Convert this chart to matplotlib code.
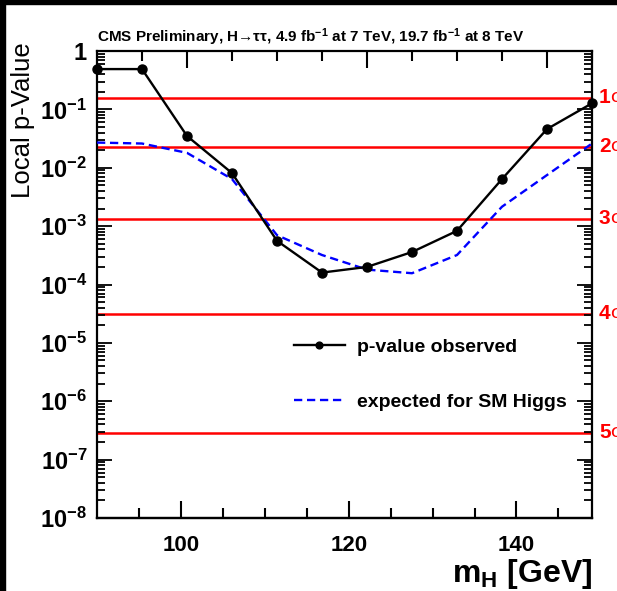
import matplotlib
matplotlib.use("Agg")
import matplotlib.pyplot as plt
import matplotlib.patches as mpatches
from matplotlib.ticker import FixedLocator, LogLocator, NullFormatter
from matplotlib.transforms import blended_transform_factory

plt.rcParams["font.family"] = ["Liberation Sans", "DejaVu Sans"]
plt.rcParams["mathtext.fontset"] = "custom"
plt.rcParams["mathtext.rm"] = "Liberation Sans:bold"
plt.rcParams["mathtext.it"] = "Liberation Sans:bold"
plt.rcParams["mathtext.bf"] = "Liberation Sans:bold"

# Higgs mass hypotheses (GeV)
mass = [90, 95, 100, 105, 110, 115, 120, 125, 130, 135, 140, 145]
# observed local p-value
p_observed = [0.49, 0.49, 0.035, 0.0081, 5.6e-4, 1.6e-4, 2.0e-4, 3.6e-4,
              8.3e-4, 6.4e-3, 0.046, 0.127]
# expected local p-value for a SM Higgs boson
p_expected = [0.027, 0.026, 0.018, 0.0064, 7.0e-4, 3.2e-4, 1.8e-4, 1.56e-4,
              3.2e-4, 2.15e-3, 7.5e-3, 0.026]

# one-sided p-values for 1..5 standard deviations
sigma_labels = ["1", "2", "3", "4", "5"]
sigma_p = [0.1587, 0.02275, 0.00135, 3.167e-5, 2.867e-7]

x_ticks = [100, 120, 140]
x_minor = [95, 105, 110, 115, 125, 130, 135, 145]
y_decades = [1e-8, 1e-7, 1e-6, 1e-5, 1e-4, 1e-3, 1e-2, 1e-1, 1]
y_labels = [r"$10^{-8}$", r"$10^{-7}$", r"$10^{-6}$", r"$10^{-5}$", r"$10^{-4}$",
            r"$10^{-3}$", r"$10^{-2}$", r"$10^{-1}$", r"$1$"]

# the labelled bottom scale runs 90..149 over the frame, the curves 90..145
frame_lo, frame_hi = 90, 145
label_lo, label_hi = 90, 149


def to_label(x):
    return label_lo + (x - frame_lo) * (label_hi - label_lo) / (frame_hi - frame_lo)


def to_frame(x):
    return frame_lo + (x - label_lo) * (frame_hi - frame_lo) / (label_hi - label_lo)


W, H = 617, 591
fig = plt.figure(figsize=(W / 100, H / 100), dpi=100)
fig.patch.set_facecolor("white")

# black frame strips on the top and left edges
fig.patches.append(mpatches.Rectangle((0, 1 - 4 / H), 1, 4 / H, transform=fig.transFigure,
                                      color="black", zorder=10))
fig.patches.append(mpatches.Rectangle((0, 0), 5 / W, 1, transform=fig.transFigure,
                                      color="black", zorder=10))

left, right, top, bottom = 97, 592, 51, 518
ax = fig.add_axes([left / W, 1 - bottom / H, (right - left) / W, (bottom - top) / H])
ax.set_yscale("log")
ax.set_ylim(1e-8, 1)
ax.set_xlim(frame_lo, frame_hi)

for s in ax.spines.values():
    s.set_linewidth(1.6)

# top axis: ticks only, on the curves' mass scale
ax.xaxis.set_ticks_position("top")
ax.set_xticks(x_ticks)
ax.set_xticks(x_minor, minor=True)
ax.xaxis.set_tick_params(which="major", direction="in", length=12, width=1.5,
                         color="black", labeltop=False, labelbottom=False)
ax.xaxis.set_tick_params(which="minor", direction="in", length=7, width=1.5,
                         color="black")

ax.yaxis.set_major_locator(FixedLocator(y_decades))
ax.set_yticklabels(y_labels, fontsize=17)
ax.yaxis.set_minor_locator(LogLocator(base=10, subs=range(2, 10), numticks=50))
ax.yaxis.set_minor_formatter(NullFormatter())
ax.yaxis.set_ticks_position("both")
ax.yaxis.set_tick_params(which="major", direction="in", length=11, width=1.3, pad=7)
ax.yaxis.set_tick_params(which="minor", direction="in", length=6, width=1.3)

# bottom axis with the mass labels
sec = ax.secondary_xaxis("bottom", functions=(to_label, to_frame))
sec.set_xticks(x_ticks)
sec.set_xticks([95, 105, 110, 115, 125, 130, 135, 145], minor=True)
sec.set_xticklabels([str(t) for t in x_ticks], fontsize=16, fontweight="bold")
sec.xaxis.set_tick_params(which="major", direction="in", length=12, width=1.5,
                          color="black", pad=12)
sec.xaxis.set_tick_params(which="minor", direction="in", length=7, width=1.5,
                          color="black")
sec.spines["bottom"].set_linewidth(1.6)

trans = blended_transform_factory(ax.transAxes, ax.transData)
for lab, p in zip(sigma_labels, sigma_p):
    ax.axhline(p, color="#ff0000", lw=1.8, zorder=1)
    ax.text(1.014, p, lab, transform=trans, color="#ff0000", fontsize=15,
            fontweight="bold", va="center", ha="left", clip_on=False)
    ax.text(1.037, p, "σ", transform=trans, color="#ff0000", fontsize=14,
            va="center", ha="left", clip_on=False)

l_obs, = ax.plot(mass, p_observed, color="black", lw=1.7, marker="o", markersize=6.5,
                 zorder=4, clip_on=False, label="p-value observed")
l_exp, = ax.plot(mass, p_expected, color="#0000ff", lw=1.7, ls=(0, (3.5, 2)),
                 zorder=3, label="expected for SM Higgs")

ax.legend(handles=[l_obs, l_exp], loc="center left",
          bbox_to_anchor=(294 / W, 1 - 374.5 / H), bbox_transform=fig.transFigure,
          frameon=False, prop={"weight": "bold", "size": 14}, handlelength=2.6,
          handletextpad=0.65, labelspacing=1.9, borderpad=0, borderaxespad=0,
          markerscale=0.75)

fig.text(23 / W, 1 - 120 / H, "Local p-Value", rotation=90, ha="center", va="center",
         fontsize=18.5)
fig.text(right / W, 1 - 574 / H, r"m$_{H}$ [GeV]", ha="right", va="center",
         fontsize=23, fontweight="bold")

fig.text(97 / W, 1 - 37 / H,
         r"CMS Preliminary, H→ττ, 4.9 fb$^{-1}$ at 7 TeV, 19.7 fb$^{-1}$ at 8 TeV",
         ha="left", va="center", fontsize=11, fontweight="bold")

fig.savefig("out.png", dpi=100)
